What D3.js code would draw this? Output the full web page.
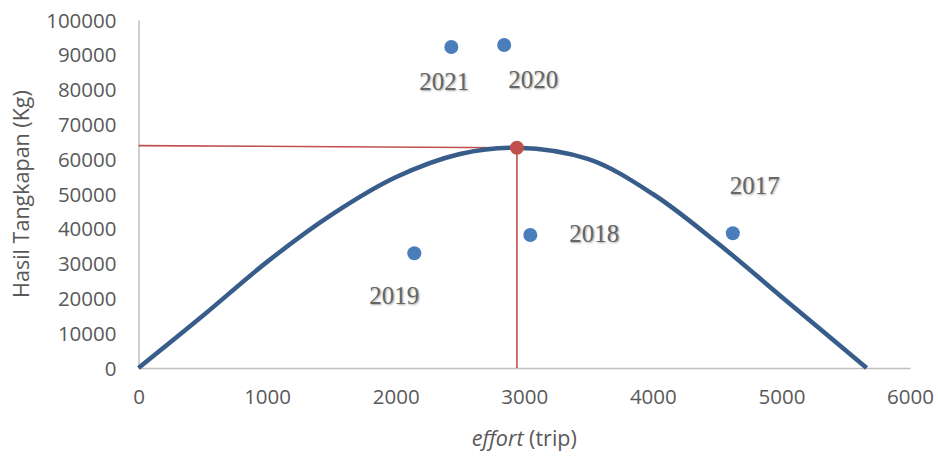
<!DOCTYPE html>
<html>
<head>
<meta charset="utf-8">
<script src="https://cdn.jsdelivr.net/npm/d3@7"></script>
<style>
  html, body { margin: 0; padding: 0; background: #ffffff; }
  svg { display: block; }
  .yr { font-family: "Liberation Serif", "Times New Roman", serif; font-size: 25px; fill: #666666;
        text-shadow: 1px 1px 2px rgba(0,0,0,0.35); }
  .tick text { font-family: "Open Sans", "Liberation Sans", sans-serif; font-size: 20.5px; fill: #595959; }
  .title { font-family: "Open Sans", "Liberation Sans", sans-serif; font-size: 21.5px; fill: #595959; }
</style>
</head>
<body>
<svg id="chart" width="938" height="456"></svg>
<script>
// Yield curve (effort vs catch)
const curveEffort = [0, 500, 1000, 1500, 2000, 2500, 2938, 3500, 4000, 4500, 5000, 5663];
const curveCatch  = [0, 15000, 30500, 44000, 54800, 61500, 63300, 60000, 50000, 36000, 20500, 0];

// Observed yearly points
const years       = ["2017", "2018", "2019", "2020", "2021"];
const yearEffort  = [4622, 3047, 2145, 2844, 2433];
const yearCatch   = [38700, 38220, 32960, 92800, 92240];

// Optimum point (E_MSY, MSY)
const optEffort = 2943;
const optCatch  = 63300;
const optLineStartCatch = 63900;

const xTicks = [0, 1000, 2000, 3000, 4000, 5000, 6000];
const yTicks = [0, 10000, 20000, 30000, 40000, 50000, 60000, 70000, 80000, 90000, 100000];

const svg = d3.select("#chart");
const x = d3.scaleLinear().domain([0, 6000]).range([138.5, 910]);
const y = d3.scaleLinear().domain([0, 100000]).range([368, 20]);

// axes
const xAxis = svg.append("g").attr("transform", `translate(0,${y(0)})`)
  .call(d3.axisBottom(x).tickValues(xTicks).tickSize(0).tickPadding(30).tickFormat(d3.format("d")));
const yAxis = svg.append("g").attr("transform", `translate(${x(0)},0)`)
  .call(d3.axisLeft(y).tickValues(yTicks).tickSize(0).tickPadding(22).tickFormat(d3.format("d")));
[xAxis, yAxis].forEach(g => g.select(".domain").attr("stroke", "#bfbfbf").attr("stroke-width", 1.5));
xAxis.selectAll(".tick text").attr("dy", "0.3em");
yAxis.selectAll(".tick text").attr("dy", "0.35em");

// axis titles
const xt = svg.append("text").attr("class", "title").attr("x", x(3000)).attr("y", 446).attr("text-anchor", "middle");
xt.append("tspan").attr("font-style", "italic").text("effort");
xt.append("tspan").text(" (trip)");
svg.append("text").attr("class", "title")
  .attr("transform", `translate(29,${(y(0) + y(100000)) / 2}) rotate(-90)`)
  .attr("text-anchor", "middle").text("Hasil Tangkapan (Kg)");

// reference lines to the optimum
svg.append("line").attr("x1", x(0)).attr("y1", y(optLineStartCatch)).attr("x2", x(optEffort)).attr("y2", y(optCatch))
  .attr("stroke", "#c0504d").attr("stroke-width", 1.6);
svg.append("line").attr("x1", x(optEffort)).attr("y1", y(optCatch)).attr("x2", x(optEffort)).attr("y2", y(0))
  .attr("stroke", "#c0504d").attr("stroke-width", 1.6);

// yield curve
const curveData = curveEffort.map((e, i) => [e, curveCatch[i]]);
svg.append("path").datum(curveData)
  .attr("fill", "none").attr("stroke", "#385d8a").attr("stroke-width", 4.5)
  .attr("d", d3.line().x(d => x(d[0])).y(d => y(d[1])).curve(d3.curveCatmullRom.alpha(0.5)));

// optimum marker
svg.append("circle").attr("cx", x(optEffort)).attr("cy", y(optCatch)).attr("r", 7).attr("fill", "#c0504d");

// yearly points
const pts = years.map((yr, i) => ({ yr, e: yearEffort[i], c: yearCatch[i] }));
svg.selectAll("circle.pt").data(pts).enter().append("circle").attr("class", "pt")
  .attr("cx", d => x(d.e)).attr("cy", d => y(d.c)).attr("r", 7).attr("fill", "#4a7ebb");

// year labels (offsets from each point)
const labelDx = { "2017": 22, "2018": 64, "2019": -20, "2020": 29, "2021": -7 };
const labelDy = { "2017": -39, "2018": 7, "2019": 51, "2020": 43, "2021": 43 };
svg.selectAll("text.yr").data(pts).enter().append("text").attr("class", "yr")
  .attr("x", d => x(d.e) + labelDx[d.yr]).attr("y", d => y(d.c) + labelDy[d.yr])
  .attr("text-anchor", "middle").text(d => d.yr);
</script>
</body>
</html>
